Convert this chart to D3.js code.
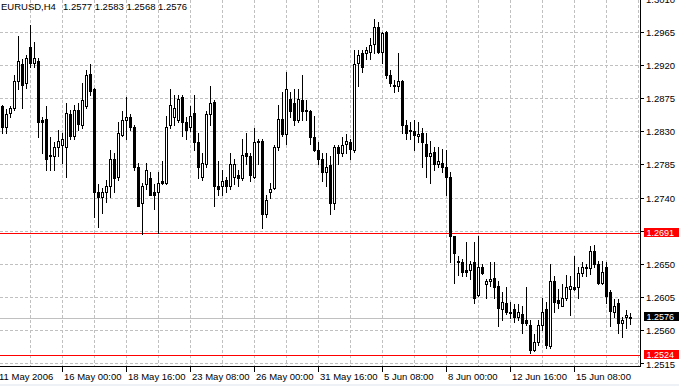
<!DOCTYPE html>
<html>
<head>
<meta charset="utf-8">
<script src="https://cdn.jsdelivr.net/npm/d3@7"></script>
<style>
  body { margin: 0; background: #fff; }
  svg { display: block; font-family: "Liberation Sans", Arial, sans-serif; }
</style>
</head>
<body>
<svg class="svg"></svg>
<script>
const symbol = "EURUSD,H4"
const lastQuote = ["1.2577", "1.2583", "1.2568", "1.2576"]

const opens = [
  1.2864, 1.2836, 1.2855, 1.2862, 1.2899, 1.2922, 1.2896, 1.2945, 1.2923, 1.2925,
  1.2846, 1.2847, 1.2796, 1.2796, 1.2809, 1.2812, 1.2809, 1.2853, 1.2823, 1.2859,
  1.2839, 1.2865, 1.2908, 1.2887, 1.2747, 1.2741, 1.2747, 1.2755, 1.2793, 1.2768,
  1.2825, 1.2845, 1.2849, 1.2836, 1.2782, 1.2732, 1.2758, 1.2767, 1.2747, 1.2747,
  1.2763, 1.2760, 1.2838, 1.2849, 1.2846, 1.2877, 1.2843, 1.2836, 1.2855, 1.2815,
  1.2768, 1.2785, 1.2853, 1.2870, 1.2755, 1.2755, 1.2764, 1.2755, 1.2768, 1.2771,
  1.2767, 1.2801, 1.2796, 1.2768, 1.2817, 1.2817, 1.2717, 1.2747, 1.2753, 1.2808,
  1.2847, 1.2827, 1.2874, 1.2869, 1.2846, 1.2873, 1.2859, 1.2857, 1.2822, 1.2805,
  1.2792, 1.2774, 1.2784, 1.2732, 1.2809, 1.2801, 1.2813, 1.2815, 1.2805, 1.2923,
  1.2936, 1.2936, 1.2938, 1.2949, 1.2972, 1.2938, 1.2965, 1.2906, 1.2893, 1.2891,
  1.2898, 1.2839, 1.2830, 1.2830, 1.2823, 1.2828, 1.2813, 1.2796, 1.2802, 1.2785,
  1.2787, 1.2782, 1.2768, 1.2687, 1.2653, 1.2652, 1.2642, 1.2642, 1.2652, 1.2608,
  1.2646, 1.2622, 1.2626, 1.2630, 1.2620, 1.2588, 1.2596, 1.2585, 1.2588, 1.2578,
  1.2581, 1.2573, 1.2567, 1.2533, 1.2543, 1.2566, 1.2588, 1.2538, 1.2627, 1.2600,
  1.2593, 1.2603, 1.2616, 1.2619, 1.2619, 1.2638, 1.2644, 1.2644, 1.2667, 1.2649,
  1.2624, 1.2646, 1.2611, 1.2584, 1.2596, 1.2569, 1.2577, 1.2577
]
const highs = [
  1.2866, 1.2860, 1.2865, 1.2907, 1.2959, 1.2928, 1.2934, 1.2974, 1.2952, 1.2930,
  1.2849, 1.2864, 1.2822, 1.2815, 1.2832, 1.2828, 1.2869, 1.2859, 1.2866, 1.2868,
  1.2896, 1.2914, 1.2921, 1.2889, 1.2758, 1.2753, 1.2764, 1.2804, 1.2801, 1.2842,
  1.2857, 1.2876, 1.2853, 1.2839, 1.2787, 1.2760, 1.2787, 1.2774, 1.2758, 1.2774,
  1.2790, 1.2851, 1.2887, 1.2880, 1.2880, 1.2880, 1.2849, 1.2864, 1.2880, 1.2828,
  1.2801, 1.2857, 1.2891, 1.2873, 1.2789, 1.2778, 1.2768, 1.2801, 1.2792, 1.2778,
  1.2819, 1.2828, 1.2801, 1.2835, 1.2819, 1.2820, 1.2743, 1.2760, 1.2812, 1.2866,
  1.2883, 1.2910, 1.2883, 1.2887, 1.2887, 1.2906, 1.2873, 1.2859, 1.2851, 1.2815,
  1.2801, 1.2801, 1.2796, 1.2812, 1.2812, 1.2822, 1.2827, 1.2819, 1.2941, 1.2941,
  1.2941, 1.2945, 1.2957, 1.2982, 1.2978, 1.2965, 1.2967, 1.2914, 1.2900, 1.2937,
  1.2900, 1.2846, 1.2842, 1.2846, 1.2842, 1.2835, 1.2828, 1.2817, 1.2809, 1.2809,
  1.2806, 1.2804, 1.2775, 1.2688, 1.2661, 1.2657, 1.2679, 1.2654, 1.2679, 1.2687,
  1.2649, 1.2629, 1.2652, 1.2652, 1.2626, 1.2611, 1.2618, 1.2598, 1.2595, 1.2595,
  1.2592, 1.2618, 1.2574, 1.2554, 1.2574, 1.2604, 1.2598, 1.2649, 1.2633, 1.2615,
  1.2622, 1.2634, 1.2633, 1.2660, 1.2646, 1.2652, 1.2649, 1.2674, 1.2675, 1.2653,
  1.2653, 1.2652, 1.2614, 1.2602, 1.2602, 1.2578, 1.2587, 1.2583
]
const lows = [
  1.2828, 1.2828, 1.2849, 1.2859, 1.2887, 1.2862, 1.2889, 1.2917, 1.2917, 1.2822,
  1.2801, 1.2778, 1.2778, 1.2778, 1.2797, 1.2787, 1.2768, 1.2819, 1.2819, 1.2832,
  1.2835, 1.2862, 1.2880, 1.2714, 1.2700, 1.2719, 1.2734, 1.2741, 1.2748, 1.2764,
  1.2823, 1.2819, 1.2832, 1.2778, 1.2728, 1.2690, 1.2751, 1.2743, 1.2725, 1.2692,
  1.2758, 1.2758, 1.2835, 1.2839, 1.2843, 1.2823, 1.2819, 1.2831, 1.2805, 1.2767,
  1.2764, 1.2782, 1.2839, 1.2728, 1.2744, 1.2744, 1.2747, 1.2751, 1.2758, 1.2755,
  1.2764, 1.2785, 1.2762, 1.2767, 1.2785, 1.2699, 1.2713, 1.2740, 1.2751, 1.2805,
  1.2824, 1.2813, 1.2850, 1.2839, 1.2843, 1.2846, 1.2846, 1.2813, 1.2803, 1.2785,
  1.2762, 1.2755, 1.2718, 1.2724, 1.2785, 1.2796, 1.2801, 1.2793, 1.2802, 1.2892,
  1.2911, 1.2928, 1.2928, 1.2937, 1.2937, 1.2923, 1.2903, 1.2891, 1.2884, 1.2885,
  1.2828, 1.2819, 1.2820, 1.2804, 1.2815, 1.2782, 1.2768, 1.2760, 1.2778, 1.2782,
  1.2774, 1.2744, 1.2652, 1.2624, 1.2634, 1.2633, 1.2633, 1.2629, 1.2596, 1.2606,
  1.2636, 1.2604, 1.2620, 1.2604, 1.2565, 1.2574, 1.2581, 1.2576, 1.2571, 1.2574,
  1.2556, 1.2567, 1.2529, 1.2531, 1.2540, 1.2560, 1.2536, 1.2535, 1.2584, 1.2590,
  1.2592, 1.2601, 1.2580, 1.2614, 1.2603, 1.2633, 1.2633, 1.2636, 1.2645, 1.2622,
  1.2622, 1.2596, 1.2565, 1.2577, 1.2556, 1.2550, 1.2562, 1.2568
]
const closes = [
  1.2836, 1.2853, 1.2862, 1.2899, 1.2925, 1.2893, 1.2929, 1.2923, 1.2929, 1.2843,
  1.2843, 1.2793, 1.2798, 1.2808, 1.2817, 1.2819, 1.2855, 1.2823, 1.2859, 1.2840,
  1.2873, 1.2907, 1.2885, 1.2747, 1.2741, 1.2747, 1.2756, 1.2792, 1.2766, 1.2828,
  1.2845, 1.2849, 1.2836, 1.2781, 1.2729, 1.2756, 1.2778, 1.2744, 1.2744, 1.2760,
  1.2760, 1.2836, 1.2866, 1.2861, 1.2874, 1.2843, 1.2832, 1.2851, 1.2815, 1.2782,
  1.2787, 1.2853, 1.2868, 1.2755, 1.2751, 1.2763, 1.2755, 1.2786, 1.2786, 1.2766,
  1.2798, 1.2796, 1.2770, 1.2815, 1.2816, 1.2717, 1.2737, 1.2752, 1.2808, 1.2847,
  1.2827, 1.2887, 1.2857, 1.2846, 1.2874, 1.2857, 1.2858, 1.2822, 1.2805, 1.2792,
  1.2774, 1.2782, 1.2732, 1.2808, 1.2801, 1.2811, 1.2817, 1.2806, 1.2921, 1.2934,
  1.2918, 1.2940, 1.2948, 1.2972, 1.2938, 1.2964, 1.2906, 1.2895, 1.2891, 1.2899,
  1.2839, 1.2828, 1.2832, 1.2825, 1.2827, 1.2815, 1.2797, 1.2800, 1.2785, 1.2789,
  1.2781, 1.2768, 1.2687, 1.2665, 1.2654, 1.2639, 1.2639, 1.2649, 1.2604, 1.2645,
  1.2638, 1.2626, 1.2629, 1.2618, 1.2590, 1.2598, 1.2584, 1.2584, 1.2577, 1.2584,
  1.2570, 1.2569, 1.2533, 1.2544, 1.2566, 1.2584, 1.2539, 1.2626, 1.2598, 1.2596,
  1.2604, 1.2619, 1.2620, 1.2616, 1.2637, 1.2645, 1.2646, 1.2667, 1.2649, 1.2624,
  1.2639, 1.2606, 1.2586, 1.2592, 1.2570, 1.2573, 1.2580, 1.2576
]

// price grid labels and time labels
const priceTicks = [1.2515, 1.2560, 1.2605, 1.2650, 1.2695, 1.2740, 1.2785, 1.2830, 1.2875, 1.2920, 1.2965, 1.3010]
const timeBars = [15, 31, 47, 63, 79, 95, 111, 127, 143]
const timeTexts = ["16 May 00:00", "18 May 16:00", "23 May 08:00", "26 May 00:00", "31 May 16:00",
  "5 Jun 08:00", "8 Jun 00:00", "12 Jun 16:00", "15 Jun 08:00"]
const firstLabel = "11 May 2006"

// horizontal lines on the chart
const redLevels = [1.2691, 1.2524]
const bidLevel = 1.2576

// define metrics
const metrics = {
  width: 679,
  height: 386,
  plotRight: 640,
  plotBottom: 366
}

const bars = opens.map((o, i) => ({ i, o, h: highs[i], l: lows[i], c: closes[i] }))

const svg = d3
  .select(".svg")
  .attr("width", metrics.width)
  .attr("height", metrics.height)

const x = d3.scaleLinear().domain([0, 159]).range([2.5, 638.5])
const y = d3.scaleLinear().domain([1.2515, 1.2965]).range([363.5, 32.5])
const px = v => Math.floor(v) + 0.5

svg.append("rect")
  .attr("width", metrics.width)
  .attr("height", metrics.height)
  .attr("fill", "#fff")

svg.append("rect")
  .attr("y", 384)
  .attr("width", metrics.width)
  .attr("height", 2)
  .attr("fill", "#eef2f7")

svg.append("clipPath").attr("id", "plot")
  .append("rect")
  .attr("width", metrics.plotRight)
  .attr("height", metrics.plotBottom)

const plot = svg.append("g").attr("clip-path", "url(#plot)")

// dashed grid
const gridBars = d3.range(7, 160, 8)
plot.selectAll("line.vgrid")
  .data(gridBars)
  .join("line")
  .attr("class", "vgrid")
  .attr("x1", d => px(x(d))).attr("x2", d => px(x(d)))
  .attr("y1", 0).attr("y2", metrics.plotBottom)
  .attr("stroke", "#c0c0c0")
  .attr("stroke-dasharray", "3,2")

plot.selectAll("line.hgrid")
  .data(priceTicks)
  .join("line")
  .attr("class", "hgrid")
  .attr("x1", 0).attr("x2", metrics.plotRight)
  .attr("y1", d => px(y(d))).attr("y2", d => px(y(d)))
  .attr("stroke", "#c0c0c0")
  .attr("stroke-dasharray", "3,2")

// bid line and red level lines
plot.append("line")
  .attr("x1", 0).attr("x2", metrics.plotRight)
  .attr("y1", px(y(bidLevel))).attr("y2", px(y(bidLevel)))
  .attr("stroke", "#c0c0c0")

plot.selectAll("line.level")
  .data(redLevels)
  .join("line")
  .attr("class", "level")
  .attr("x1", 0).attr("x2", metrics.plotRight)
  .attr("y1", d => px(y(d)) - 1).attr("y2", d => px(y(d)) - 1)
  .attr("stroke", "#ff0000")

// candles
const candle = plot.selectAll("g.candle")
  .data(bars)
  .join("g")
  .attr("class", "candle")

candle.append("line")
  .attr("x1", d => px(x(d.i))).attr("x2", d => px(x(d.i)))
  .attr("y1", d => Math.floor(y(d.h))).attr("y2", d => Math.floor(y(d.l)) + 1)
  .attr("stroke", "#000")

candle.append("rect")
  .attr("x", d => px(x(d.i)) - 1)
  .attr("width", 2)
  .attr("y", d => px(y(Math.max(d.o, d.c))))
  .attr("height", d => Math.max(1, Math.floor(y(Math.min(d.o, d.c))) - Math.floor(y(Math.max(d.o, d.c)))))
  .attr("fill", d => d.c > d.o ? "#fff" : "#000")
  .attr("stroke", "#000")

// axes
svg.append("line")
  .attr("x1", metrics.plotRight + 0.5).attr("x2", metrics.plotRight + 0.5)
  .attr("y1", 0).attr("y2", metrics.plotBottom + 1)
  .attr("stroke", "#000")

svg.append("line")
  .attr("x1", 0).attr("x2", metrics.plotRight + 1)
  .attr("y1", metrics.plotBottom + 0.5).attr("y2", metrics.plotBottom + 0.5)
  .attr("stroke", "#000")

svg.selectAll("line.ytick")
  .data(priceTicks)
  .join("line")
  .attr("class", "ytick")
  .attr("x1", metrics.plotRight + 1).attr("x2", metrics.plotRight + 4)
  .attr("y1", d => px(y(d))).attr("y2", d => px(y(d)))
  .attr("stroke", "#000")

// grid labels that sit under a price box are covered, as in the terminal
const boxLevels = redLevels.concat([bidLevel])
const shownTicks = priceTicks.filter(t => boxLevels.every(v => Math.abs(y(t) - y(v)) > 6))

svg.selectAll("text.ylabel")
  .data(shownTicks)
  .join("text")
  .attr("class", "ylabel")
  .attr("x", 646)
  .attr("y", d => Math.floor(y(d)) + (d < 1.252 ? 5 : 4))
  .attr("font-size", "9.5px")
  .attr("fill", "#000")
  .text(d => d.toFixed(4))

svg.selectAll("line.xtick")
  .data(timeBars)
  .join("line")
  .attr("class", "xtick")
  .attr("x1", d => px(x(d))).attr("x2", d => px(x(d)))
  .attr("y1", metrics.plotBottom + 1).attr("y2", metrics.plotBottom + 6)
  .attr("stroke", "#000")

svg.selectAll("text.xlabel")
  .data(timeBars)
  .join("text")
  .attr("class", "xlabel")
  .attr("x", d => Math.floor(x(d)) + 2)
  .attr("y", 379.5)
  .attr("font-size", "9.5px")
  .attr("fill", "#000")
  .text((d, i) => timeTexts[i])

svg.append("text")
  .attr("x", -1)
  .attr("y", 379.5)
  .attr("font-size", "9.5px")
  .text(firstLabel)

// price boxes on the axis
const boxes = redLevels.map(v => ({ v, fill: "#ff0000" })).concat([{ v: bidLevel, fill: "#000" }])

const box = svg.selectAll("g.box")
  .data(boxes)
  .join("g")
  .attr("class", "box")
  .attr("transform", d => `translate(644, ${Math.floor(y(d.v)) - 1})`)

box.append("rect")
  .attr("y", -5)
  .attr("width", 35)
  .attr("height", 9)
  .attr("fill", d => d.fill)

box.append("text")
  .attr("x", 2.5)
  .attr("y", 3)
  .attr("font-size", "9px")
  .attr("fill", "#fff")
  .text(d => d.v.toFixed(4))

// title
svg.append("text")
  .attr("x", 1)
  .attr("y", 10)
  .attr("font-size", "9.5px")
  .text(symbol)

svg.append("text")
  .attr("x", 63)
  .attr("y", 10)
  .attr("font-size", "9.5px")
  .text(lastQuote.join(" "))
</script>
</body>
</html>
